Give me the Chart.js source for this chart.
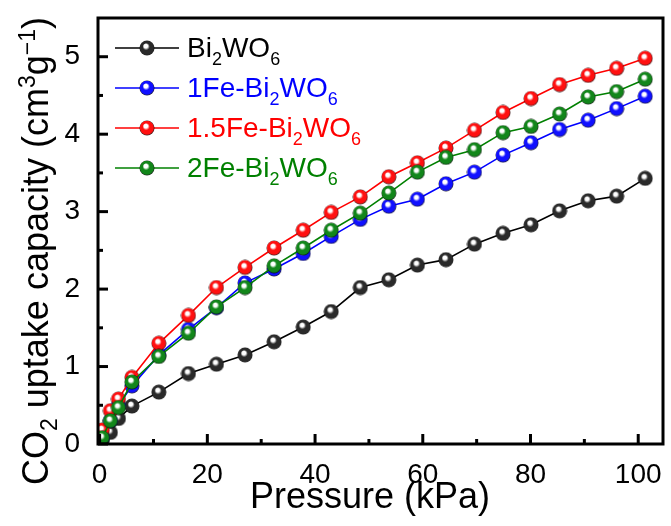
<!DOCTYPE html>
<html>
<head>
<meta charset="utf-8">
<script src="https://cdn.jsdelivr.net/npm/chart.js@4/dist/chart.umd.min.js"></script>
<style>
  html, body { margin: 0; padding: 0; background: #fff; }
  #wrap { position: relative; width: 671px; height: 526px; font-family: "Liberation Sans", Arial, sans-serif; }
  #c { position: absolute; left: 0; top: 0; }
  .leg { position: absolute; left: 115px; height: 30px; display: flex; align-items: center; white-space: nowrap; font-size: 28px; line-height: 30px; }
  .leg canvas { margin-right: 8px; }
  .leg sub { font-size: 18px; vertical-align: -8px; line-height: 0; }
  #ytitle { position: absolute; left: 36px; top: 251px; transform: translate(-50%, -50%) rotate(-90deg); white-space: nowrap; font-size: 36px; line-height: 36px; }
  #ytitle sub { font-size: 23px; vertical-align: -9px; line-height: 0; }
  #ytitle sup { font-size: 23px; vertical-align: 13px; line-height: 0; }
  #xtitle { position: absolute; left: 370px; top: 496px; transform: translate(-50%, -50%); white-space: nowrap; font-size: 36px; line-height: 36px; }
</style>
</head>
<body>
<div id="wrap">
  <canvas id="c" width="671" height="526"></canvas>
  <div id="ytitle">CO<sub>2</sub> uptake capacity (cm<sup>3</sup>g<sup>−1</sup>)</div>
  <div id="xtitle">Pressure (kPa)</div>
  <div id="legend"></div>
</div>
<script>
// pressure (kPa)
const pressure = [0.5, 2, 3.5, 6, 11, 16.5, 21.7, 27, 32.4, 37.8, 43, 48.4, 53.7, 59, 64.3, 69.6, 74.9, 80.1, 85.4, 90.7, 96, 101.3]

// CO2 uptake (cm3/g)
const bi2wo6 = [0.05, 0.15, 0.33, 0.49, 0.67, 0.91, 1.03, 1.15, 1.32, 1.51, 1.71, 2.02, 2.12, 2.31, 2.38, 2.58, 2.72, 2.83, 3.01, 3.14, 3.2, 3.43]
const fe1 = [0.08, 0.3, 0.5, 0.75, 1.15, 1.48, 1.76, 2.08, 2.26, 2.46, 2.68, 2.9, 3.07, 3.16, 3.36, 3.51, 3.73, 3.89, 4.06, 4.18, 4.33, 4.49]
const fe15 = [0.18, 0.43, 0.58, 0.86, 1.3, 1.66, 2.02, 2.28, 2.53, 2.76, 2.99, 3.19, 3.45, 3.63, 3.82, 4.05, 4.28, 4.46, 4.64, 4.76, 4.85, 4.98]
const fe2 = [0.08, 0.3, 0.47, 0.8, 1.13, 1.43, 1.77, 2.02, 2.3, 2.53, 2.76, 2.98, 3.24, 3.51, 3.7, 3.8, 4.02, 4.1, 4.26, 4.48, 4.55, 4.71]

const xTicks = [0, 20, 40, 60, 80, 100]
const yTicks = [0, 1, 2, 3, 4, 5]
const xMinor = [10, 30, 50, 70, 90]
const yMinor = [0.5, 1.5, 2.5, 3.5, 4.5]

// legend entries
const series = [
  { pre: "Bi", color: "#000000", ball: "#2a2a2a", data: bi2wo6 },
  { pre: "1Fe-Bi", color: "#0000ff", ball: "#1010ff", data: fe1 },
  { pre: "1.5Fe-Bi", color: "#ff0000", ball: "#ff1010", data: fe15 },
  { pre: "2Fe-Bi", color: "#008000", ball: "#12861a", data: fe2 },
]

// glossy ball marker
function ball(col) {
  const s = 16, cv = document.createElement("canvas")
  cv.width = s; cv.height = s
  const g = cv.getContext("2d")
  const gr = g.createRadialGradient(6.5, 5.5, 0.3, 8, 8, 7.6)
  gr.addColorStop(0, "#ffffff")
  gr.addColorStop(0.22, "#ffffff")
  gr.addColorStop(0.45, col)
  gr.addColorStop(0.85, col)
  gr.addColorStop(1, "rgba(0,0,0,0.85)")
  g.fillStyle = gr
  g.beginPath(); g.arc(8, 8, 7.5, 0, Math.PI * 2); g.fill()
  return cv
}

const balls = series.map(s => ball(s.ball))

// html legend
const legend = document.getElementById("legend")
series.forEach((s, i) => {
  const row = document.createElement("div")
  row.className = "leg"
  row.style.top = (33 + i * 40) + "px"
  row.style.color = s.color
  const mk = document.createElement("canvas")
  mk.width = 64; mk.height = 20
  const g = mk.getContext("2d")
  g.strokeStyle = s.color; g.lineWidth = 1.6
  g.beginPath(); g.moveTo(0, 10); g.lineTo(64, 10); g.stroke()
  g.drawImage(balls[i], 24, 2)
  row.appendChild(mk)
  const t = document.createElement("span")
  t.innerHTML = s.pre + "<sub>2</sub>WO<sub>6</sub>"
  row.appendChild(t)
  legend.appendChild(row)
})

// frame + inward ticks
const frame = {
  id: "frame",
  afterDatasetsDraw(chart) {
    const { ctx, chartArea: a, scales } = chart
    ctx.save()
    ctx.strokeStyle = "#000"
    ctx.lineWidth = 3
    ctx.lineCap = "butt"
    const tick = (x1, y1, x2, y2) => { ctx.beginPath(); ctx.moveTo(x1, y1); ctx.lineTo(x2, y2); ctx.stroke() }
    xTicks.forEach(v => { const x = scales.x.getPixelForValue(v); tick(x, a.bottom, x, a.bottom - 10) })
    xMinor.forEach(v => { const x = scales.x.getPixelForValue(v); tick(x, a.bottom, x, a.bottom - 5) })
    yTicks.forEach(v => { const y = scales.y.getPixelForValue(v); tick(a.left, y, a.left + 10, y) })
    yMinor.forEach(v => { const y = scales.y.getPixelForValue(v); tick(a.left, y, a.left + 5, y) })
    ctx.strokeRect(a.left, a.top, a.right - a.left, a.bottom - a.top)
    ctx.restore()
  },
}

const tickFont = { family: "'Liberation Sans', Arial, sans-serif", size: 28 }

new Chart(document.getElementById("c"), {
  type: "line",
  data: {
    datasets: series.map((s, i) => ({
      label: s.pre + "2WO6",
      data: pressure.map((p, k) => ({ x: p, y: s.data[k] })),
      borderColor: s.color,
      borderWidth: 1.6,
      pointStyle: balls[i],
      order: 3 - i,
      tension: 0,
    })),
  },
  options: {
    responsive: false,
    animation: false,
    events: [],
    layout: { padding: { top: 18, right: 8, left: 0, bottom: 0 } },
    plugins: { legend: { display: false }, tooltip: { enabled: false } },
    scales: {
      x: {
        type: "linear",
        min: -0.3,
        max: 104.6,
        afterBuildTicks: s => { s.ticks = xTicks.map(v => ({ value: v })) },
        afterFit: s => { s.height = 82; s.paddingLeft = 0; s.paddingRight = 0 },
        grid: { display: false },
        border: { display: false },
        ticks: { color: "#000", font: tickFont, padding: 6, maxRotation: 0 },
      },
      y: {
        min: 0,
        max: 5.5,
        afterBuildTicks: s => { s.ticks = yTicks.map(v => ({ value: v })) },
        afterFit: s => { s.width = 98; s.paddingTop = 0; s.paddingBottom = 0 },
        grid: { display: false },
        border: { display: false },
        ticks: { color: "#000", font: tickFont, padding: 10 },
      },
    },
  },
  plugins: [frame],
})
</script>
</body>
</html>
